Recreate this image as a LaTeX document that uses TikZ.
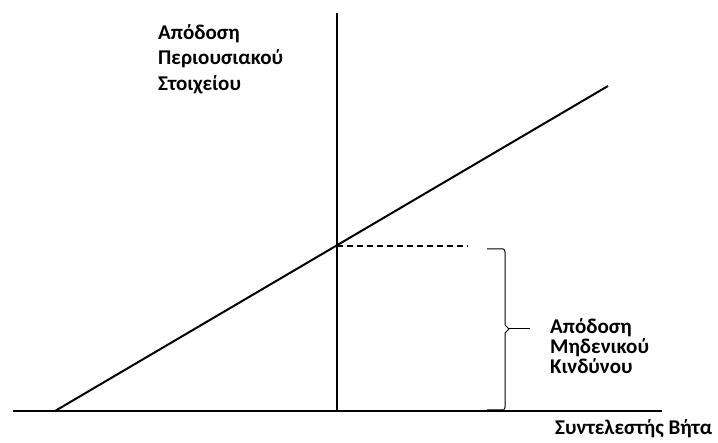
\documentclass[tikz,border=0pt]{standalone}
\usepackage{fontspec}
\setmainfont{Carlito}
\usetikzlibrary{positioning}

\begin{document}
\begin{tikzpicture}[x=1pt,y=-1pt,
  axis/.style={line width=2.4pt},
  lbl/.style={font=\bfseries\fontsize{21}{25.5}\selectfont, align=left, anchor=west, inner sep=0pt}]
\useasboundingbox (0,0) rectangle (718,443);

% axes
\coordinate (xl) at (13, 411);
\coordinate (xr) at (662, 411);
\coordinate (yt) at (337, 13);
\coordinate (yb) at (337, 411);
\draw[axis] (xl) -- (xr);
\draw[axis] (yb) -- (yt);

% security line
\coordinate (sl) at (55, 411);
\coordinate (sr) at (608, 86);
\coordinate (rf) at (337, 246);
\draw[line width=2pt] (sl) -- (sr);

\coordinate (de) at (468, 246);
\draw[line width=1.2pt, dash pattern=on 6pt off 4pt] (rf) -- (de);

% brace
\coordinate (bt) at (487, 249);
\coordinate (bb) at (487, 410);
\coordinate (bm) at (509, 329);
\coordinate (bp) at (530, 329);
\draw[line width=1pt] (bt) -- (503,249) to[out=0,in=90] (505,252) -- (505,325)
  -- (bm) -- (505,333) -- (505,407) to[out=-90,in=0] (503,410) -- (bb);
\draw[line width=1pt] (bm) -- (bp);

\node[lbl] (ytitle) at (158, 59) {Απόδοση\\Περιουσιακού\\Στοιχείου};
\node[lbl, font=\bfseries\fontsize{21}{20}\selectfont] (rftitle) at (550, 346) {Απόδοση\\Μηδενικού\\Κινδύνου};
\node[lbl] (xtitle) at (555, 429) {Συντελεστής Βήτα};
\end{tikzpicture}
\end{document}
